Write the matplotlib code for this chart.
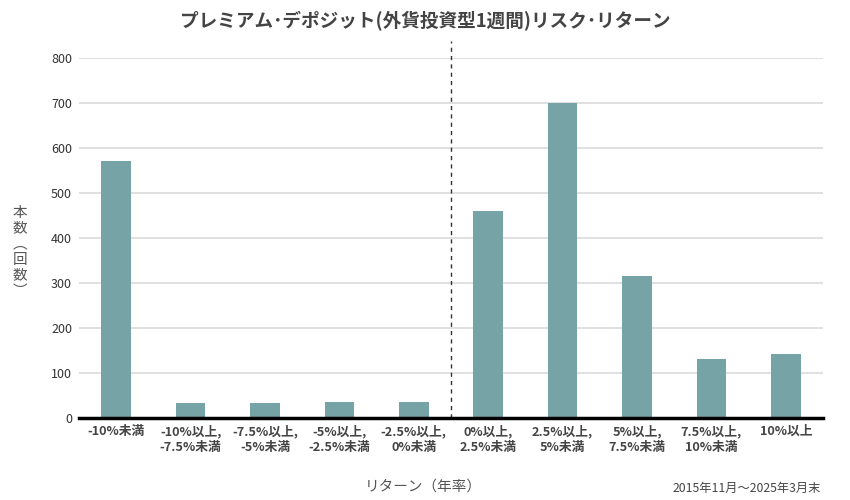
import matplotlib
matplotlib.use("Agg")
import matplotlib.pyplot as plt
import numpy as np

plt.rcParams['font.family'] = ['Noto Sans CJK JP', 'DejaVu Sans']

# data
categories = ["-10%未満", "-10%以上,\n-7.5%未満", "-7.5%以上,\n-5%未満", "-5%以上,\n-2.5%未満",
              "-2.5%以上,\n0%未満", "0%以上,\n2.5%未満", "2.5%以上,\n5%未満", "5%以上,\n7.5%未満",
              "7.5%以上,\n10%未満", "10%以上"]
counts = [572, 33, 33, 35, 35, 459, 700, 316, 131, 142]
yticks = [0, 100, 200, 300, 400, 500, 600, 700, 800]
split_at = 4.5  # boundary between negative and positive returns

title = "プレミアム･デポジット(外貨投資型1週間)リスク･リターン"
xlabel = "リターン（年率）"
ylabel_chars = ["本", "数", "︵", "回", "数", "︶"]
period_note = "2015年11月～2025年3月末"

bar_color = "#76a3a5"

fig = plt.figure(figsize=(8.5, 5), dpi=100)
ax = fig.add_axes([79 / 850, 1 - 417.7 / 500, 744 / 850, 359.5 / 500])

x = np.arange(len(categories))
ax.bar(x, counts, width=0.4, color=bar_color, zorder=3)

ax.set_xlim(-0.5, len(categories) - 0.5)
ax.set_ylim(0, 800)
ax.set_yticks(yticks)
ax.set_yticklabels([str(v) for v in yticks], fontsize=9, color="#333333")
ax.set_xticks(x)
ax.set_xticklabels(categories, fontsize=9.2, color="#444444", fontweight="bold", linespacing=1.3)
ax.tick_params(axis="both", length=0)
ax.tick_params(axis="x", pad=5)
ax.tick_params(axis="y", pad=5)

ax.grid(axis="y", color="#dddddd", linewidth=1.3, zorder=0)
for side in ["top", "right", "left"]:
    ax.spines[side].set_visible(False)
ax.spines["bottom"].set_linewidth(2.5)
ax.spines["bottom"].set_color("black")
ax.spines["bottom"].set_zorder(5)

# dashed separator at 0%
ax.plot([split_at, split_at], [0, 838], linestyle=(0, (3, 3)), color="#333333",
        linewidth=1, clip_on=False, zorder=4)

fig.text(0.5, 1 - 21 / 500, title, ha="center", va="center", fontsize=13.4,
         fontweight="bold", color="#444444")
fig.text(423 / 850, 1 - 487 / 500, xlabel, ha="center", va="center", fontsize=10.5, color="#555555")
fig.text(821 / 850, 1 - 488 / 500, period_note, ha="right", va="center", fontsize=8.8, color="#444444")
fig.text(20 / 850, 1 - 252 / 500, "\n".join(ylabel_chars), ha="center", va="center",
         fontsize=10.5, color="#555555", linespacing=1.15)

fig.savefig("out.png", dpi=100)
